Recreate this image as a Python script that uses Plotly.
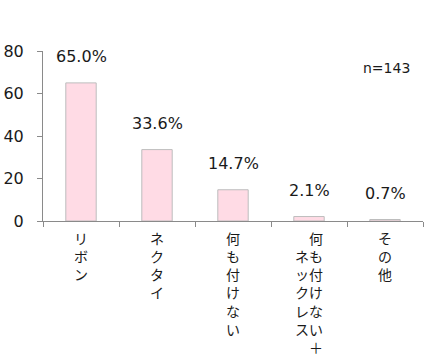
import plotly.graph_objects as go

categories = ["リボン", "ネクタイ", "何も付けない", "何も付けない＋ネックレス", "その他"]
values = [65.0, 33.6, 14.7, 2.1, 0.7]
value_labels = ["65.0%", "33.6%", "14.7%", "2.1%", "0.7%"]
tick_labels = [
    "リ<br>ボ<br>ン",
    "ネ<br>ク<br>タ<br>イ",
    "何<br>も<br>付<br>け<br>な<br>い",
    "　何<br>ネも<br>ッ付<br>クけ<br>レな<br>スい<br>　＋",
    "そ<br>の<br>他",
]
n_label = "n=143"

FONT = "DejaVu Sans, Noto Sans CJK JP"
CJK = "Noto Sans CJK JP"
TXT = "#1a1a1a"

fig = go.Figure()
fig.add_trace(go.Bar(
    x=categories, y=values, width=0.4,
    marker=dict(color="#FFDBE5", line=dict(color="#BDBDBD", width=1)),
    hoverinfo="skip",
))
for c, v, t in zip(categories, values, value_labels):
    fig.add_annotation(x=c, y=v, text=t, showarrow=False, yshift=26,
                       font=dict(family=FONT, size=16, color=TXT))
fig.add_annotation(xref="paper", yref="paper", x=0.905, y=0.9, text=n_label,
                   xanchor="center", yanchor="middle",
                   showarrow=False, font=dict(family=FONT, size=14, color=TXT))

fig.update_layout(
    width=439, height=360,
    margin=dict(l=43, r=16, t=51, b=139),
    plot_bgcolor="white", paper_bgcolor="white",
    showlegend=False,
    font=dict(family=FONT, color=TXT),
)
fig.update_xaxes(
    tickmode="array", tickvals=categories, ticktext=tick_labels,
    tickson="boundaries", ticks="outside", ticklen=5, tickcolor="#8a8a8a",
    showline=True, linecolor="#8a8a8a", linewidth=1, showgrid=False,
    tickangle=0, ticklabelstandoff=5,
    tickfont=dict(family=CJK, size=14, color=TXT), automargin=False,
)
fig.update_yaxes(
    range=[0, 80], tickvals=[0, 20, 40, 60, 80], ticks="outside", ticklen=5,
    tickcolor="#8a8a8a", showline=True, linecolor="#8a8a8a", linewidth=1,
    showgrid=False, zeroline=False, ticklabelstandoff=10,
    tickfont=dict(family=FONT, size=16, color=TXT), automargin=False,
)
fig.write_html("out.html")
